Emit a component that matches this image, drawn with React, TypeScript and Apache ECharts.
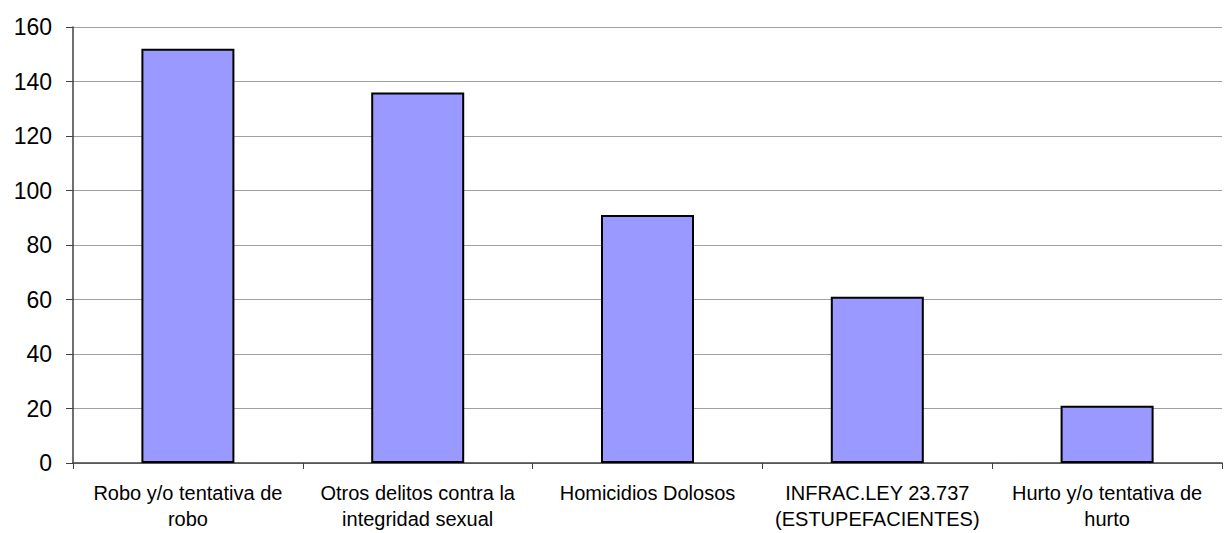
import React, { useEffect, useRef } from "react";
import * as echarts from "echarts";

const categories = [
  "Robo y/o tentativa de\nrobo",
  "Otros delitos contra la\nintegridad sexual",
  "Homicidios Dolosos",
  "INFRAC.LEY 23.737\n(ESTUPEFACIENTES)",
  "Hurto y/o tentativa de\nhurto",
];
const values = [152, 136, 91, 61, 21];

export default function App() {
  const ref = useRef<HTMLDivElement>(null);
  useEffect(() => {
    if (!ref.current) return;
    const chart = echarts.init(ref.current, undefined, { renderer: "svg" });
    chart.setOption({
      animation: false,
      backgroundColor: "#ffffff",
      grid: { left: 73, right: 4, top: 27, bottom: 70, containLabel: false },
      xAxis: {
        type: "category",
        data: categories,
        boundaryGap: true,
        axisLine: { lineStyle: { color: "#404040", width: 1.5 } },
        axisTick: { show: true, length: 6, lineStyle: { color: "#404040" } },
        axisLabel: {
          color: "#000",
          fontFamily: "Liberation Sans, Arial, sans-serif",
          fontSize: 20,
          lineHeight: 26,
          margin: 17,
          interval: 0,
        },
      },
      yAxis: {
        type: "value",
        min: 0,
        max: 160,
        interval: 20,
        axisLine: { show: true, lineStyle: { color: "#404040", width: 1.5 } },
        axisTick: { show: true, length: 7, lineStyle: { color: "#404040" } },
        splitLine: { lineStyle: { color: "#a0a0a0", width: 1 } },
        axisLabel: {
          color: "#000",
          fontFamily: "Liberation Sans, Arial, sans-serif",
          fontSize: 23,
          margin: 21,
        },
      },
      series: [
        {
          type: "bar",
          data: values,
          barWidth: 93,
          itemStyle: { color: "#9999ff", borderColor: "#000", borderWidth: 2 },
        },
      ],
    });
    return () => chart.dispose();
  }, []);
  return (
    <div
      ref={ref}
      style={{ position: "fixed", left: 0, top: 0, width: 1226, height: 533 }}
    />
  );
}
